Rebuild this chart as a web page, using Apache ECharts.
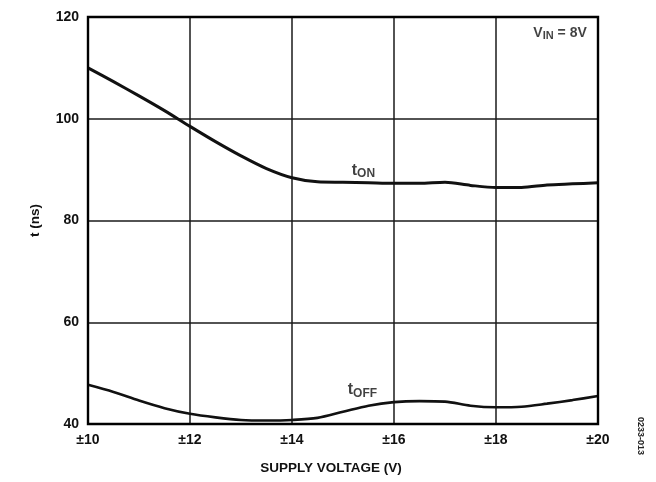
<!DOCTYPE html>
<html><head><meta charset="utf-8">
<script src="https://cdn.jsdelivr.net/npm/echarts@6/dist/echarts.min.js"></script>
<style>html,body{margin:0;padding:0;background:#fff}#c{width:656px;height:482px}</style>
</head><body><div id="c"></div>
<script>
const supplyV = [10,10.5,11,11.5,12,12.5,13,13.5,14,14.5,15,15.5,16,16.5,17,17.5,18,18.5,19,19.5,20];
const tOn =     [110,107.3,104.5,101.6,98.5,95.5,92.7,90.2,88.4,87.6,87.5,87.4,87.3,87.3,87.5,86.9,86.5,86.5,87,87.2,87.4];
const tOffV = [10,10.5,11,11.5,12,12.5,13,13.5,14,14.5,15,15.5,16,16.5,17,17.5,18,18.5,19,19.5,20];
const tOff =  [47.7,46.3,44.6,43.1,42.0,41.3,40.8,40.7,40.8,41.2,42.4,43.6,44.3,44.5,44.4,43.6,43.3,43.4,44.0,44.7,45.5];
const xTicks = [10,12,14,16,18,20];
const yTicks = [40,60,80,100,120];
const labelOn = [15.4, 89.9];
const labelOff = [15.38, 46.7];
const noteVin = [19.78, 116.9];
const font = 'Liberation Sans, Arial, sans-serif';
const chart = echarts.init(document.getElementById('c'), null, {renderer:'canvas'});
const rich = {
  t:{fontFamily:font,fontWeight:'bold',fontSize:16,color:'#111'},
  s:{fontFamily:font,fontWeight:'bold',fontSize:12,color:'#111',verticalAlign:'bottom',padding:[8,0,0,0]}
};
chart.setOption({
  animation:false,
  grid:{left:88,right:58,top:17,bottom:58,show:false},
  xAxis:{type:'value',min:xTicks[0],max:xTicks[xTicks.length-1],interval:2,
    axisLine:{show:false},axisTick:{show:false},
    splitLine:{show:true,lineStyle:{color:'#1a1a1a',width:1.5}},
    axisLabel:{formatter:v=>'±'+v,fontFamily:font,fontWeight:'bold',fontSize:14,color:'#111',margin:9},
    name:'SUPPLY VOLTAGE (V)',nameLocation:'middle',nameGap:37,
    nameTextStyle:{fontFamily:font,fontWeight:'bold',fontSize:13.5,color:'#111',padding:[0,24,0,0]}},
  yAxis:{type:'value',min:yTicks[0],max:yTicks[yTicks.length-1],interval:20,
    axisLine:{show:false},axisTick:{show:false},
    splitLine:{show:true,lineStyle:{color:'#1a1a1a',width:1.5}},
    axisLabel:{fontFamily:font,fontWeight:'bold',fontSize:14,color:'#111',margin:9},
    name:'t (ns)',nameLocation:'middle',nameGap:46,
    nameTextStyle:{fontFamily:font,fontWeight:'bold',fontSize:13.5,color:'#111'}},
  series:[
    {type:'line',data:supplyV.map((v,i)=>[v,tOn[i]]),smooth:0.3,symbol:'none',
     lineStyle:{color:'#111',width:3},z:5},
    {type:'line',data:tOffV.map((v,i)=>[v,tOff[i]]),smooth:0.3,symbol:'none',
     lineStyle:{color:'#111',width:2.6},z:5},
    {type:'scatter',symbolSize:0,z:6,
     data:[
       {value:labelOn,label:{show:true,position:'inside',formatter:'{t|t}{s|ON}',rich}},
       {value:labelOff,label:{show:true,position:'inside',formatter:'{t|t}{s|OFF}',rich}},
       {value:noteVin,label:{show:true,position:'left',distance:0,formatter:'{t|V}{s|IN}{t| = 8V}',
         rich:{t:{fontFamily:font,fontWeight:'bold',fontSize:14,color:'#111'},s:{fontFamily:font,fontWeight:'bold',fontSize:11,color:'#111',padding:[6,0,0,0]}}}}
     ]}
  ],
  graphic:[
    {type:'rect',shape:{x:88,y:17,width:510,height:407},style:{fill:'none',stroke:'#000',lineWidth:2.4},z:10},
    {type:'text',x:640,y:436,rotation:-Math.PI/2,style:{text:'0233-013',fontFamily:font,fontWeight:'bold',fontSize:9,fill:'#222',align:'center',verticalAlign:'middle'}}
  ]
});
</script></body></html>
